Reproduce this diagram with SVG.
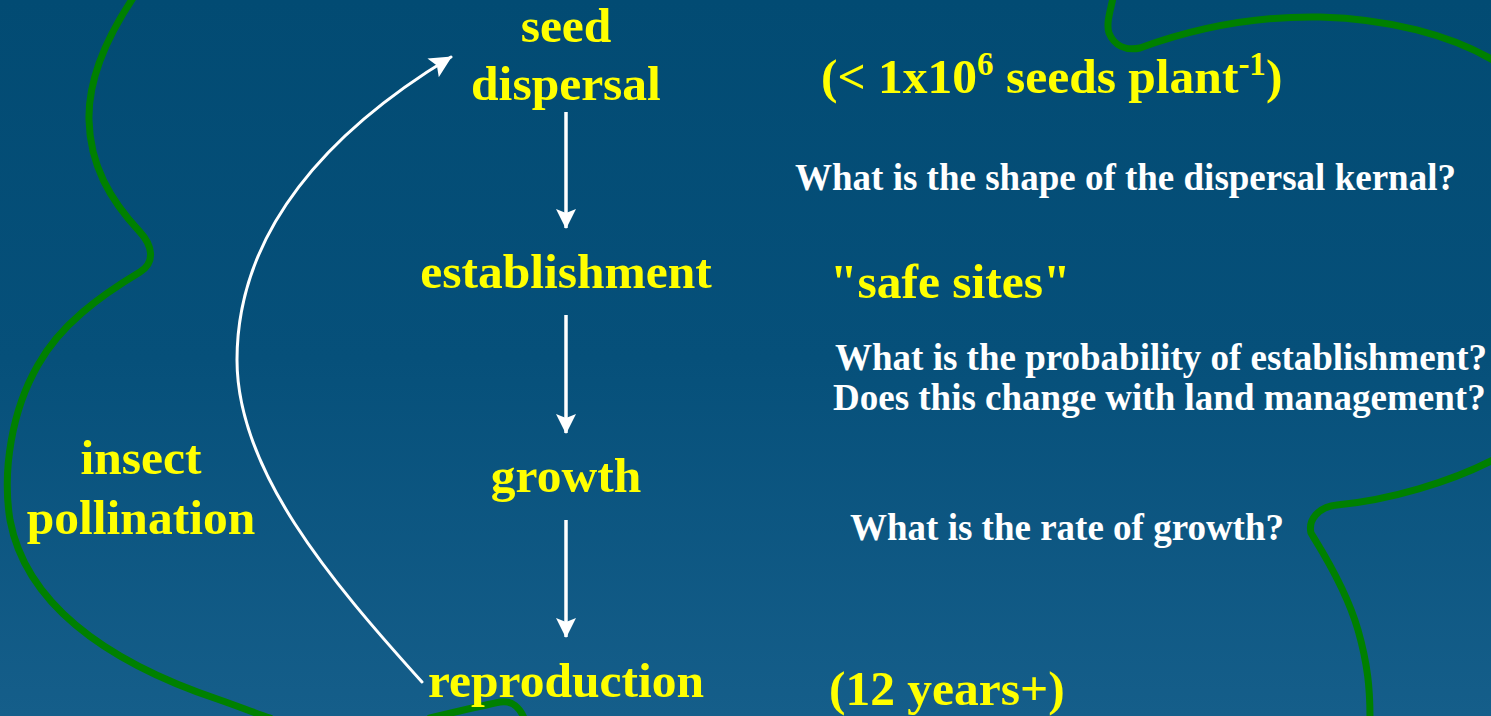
<svg xmlns="http://www.w3.org/2000/svg" width="1491" height="716" viewBox="0 0 1491 716">
  <defs>
    <linearGradient id="bg" x1="0" y1="0" x2="0" y2="1">
      <stop offset="0" stop-color="#024b73"/>
      <stop offset="0.5" stop-color="#06507a"/>
      <stop offset="1" stop-color="#155e8a"/>
    </linearGradient>
    <marker id="head" viewBox="0 0 20 20" refX="19" refY="10" markerWidth="20" markerHeight="20" markerUnits="userSpaceOnUse" orient="auto">
      <path d="M0,0 L20,10 L0,20 L4,10 z" fill="#ffffff"/>
    </marker>
    <marker id="head2" viewBox="0 0 20 20" refX="19" refY="10" markerWidth="22" markerHeight="22" markerUnits="userSpaceOnUse" orient="auto">
      <path d="M0,0 L20,10 L0,20 L4,10 z" fill="#ffffff"/>
    </marker>
  </defs>
  <style>
    .green { fill: none; stroke: #008000; stroke-width: 7; stroke-linecap: round; stroke-linejoin: round; }
    .node { font-family: "Liberation Serif", "Times New Roman", serif; font-weight: bold; font-size: 49.5px; fill: #ffff00; text-anchor: middle; }
    .note { font-family: "Liberation Serif", "Times New Roman", serif; font-weight: bold; font-size: 49.5px; fill: #ffff00; }
    .q { font-family: "Liberation Serif", "Times New Roman", serif; font-weight: bold; font-size: 37px; fill: #ffffff; }
    .arrow { fill: none; stroke: #ffffff; stroke-width: 3.5; }
    .curve { fill: none; stroke: #ffffff; stroke-width: 3; stroke-linecap: round; }
  </style>
  <rect x="0" y="0" width="1491" height="716" fill="url(#bg)"/>

  <g id="outlines">
    <path class="green" d="M133,-2 C105,40 88,80 89,120 C90,165 110,200 140,232 C152,245 156,262 140,272 C100,296 60,325 38,365 C12,410 2,470 10,520 C25,600 100,660 220,700 C240,707 255,713 270,718"/>
    <path class="green" d="M430,718 C455,712 480,706 500,702 C512,700 520,708 524,718"/>
    <path class="green" d="M1113,-2 C1110,12 1106,24 1109,33 C1114,45 1125,51 1140,48 C1200,26 1260,16 1320,17 C1390,19 1450,35 1493,60"/>
    <path class="green" d="M1493,460 C1450,482 1390,500 1337,505 C1318,507 1308,520 1311,533 C1318,545 1345,585 1358,630 C1368,665 1370,690 1370,718"/>
  </g>

  <g id="connectors">
    <line class="arrow" x1="566" y1="112" x2="566" y2="228" marker-end="url(#head)"/>
    <line class="arrow" x1="566" y1="315" x2="566" y2="433" marker-end="url(#head)"/>
    <line class="arrow" x1="566" y1="520" x2="566" y2="637" marker-end="url(#head)"/>
    <path class="curve" d="M422,682 C330,580 237,470 237,360 C237,230 330,130 451,57" marker-end="url(#head2)"/>
  </g>

  <g id="node-seed-dispersal">
    <text class="node" x="566" y="42">seed</text>
    <text class="node" x="566" y="100">dispersal</text>
  </g>
  <g id="node-establishment">
    <text class="node" x="566" y="288">establishment</text>
  </g>
  <g id="node-growth">
    <text class="node" x="566" y="492">growth</text>
  </g>
  <g id="node-reproduction">
    <text class="node" x="566" y="697">reproduction</text>
  </g>
  <g id="node-insect-pollination">
    <text class="node" x="141" y="474">insect</text>
    <text class="node" x="141" y="534">pollination</text>
  </g>

  <g id="annotations">
    <text class="note" x="821" y="93">(&lt; 1x10<tspan font-size="33" dy="-18">6</tspan><tspan dy="18"> seeds plant</tspan><tspan font-size="33" dy="-18">-1</tspan><tspan dy="18">)</tspan></text>
    <text class="q" x="795" y="190">What is the shape of the dispersal kernal?</text>
    <text class="note" x="830" y="298">"safe sites"</text>
    <text class="q" x="835" y="370">What is the probability of establishment?</text>
    <text class="q" x="833" y="410">Does this change with land management?</text>
    <text class="q" x="850" y="540">What is the rate of growth?</text>
    <text class="note" x="829" y="705">(12 years+)</text>
  </g>
</svg>
